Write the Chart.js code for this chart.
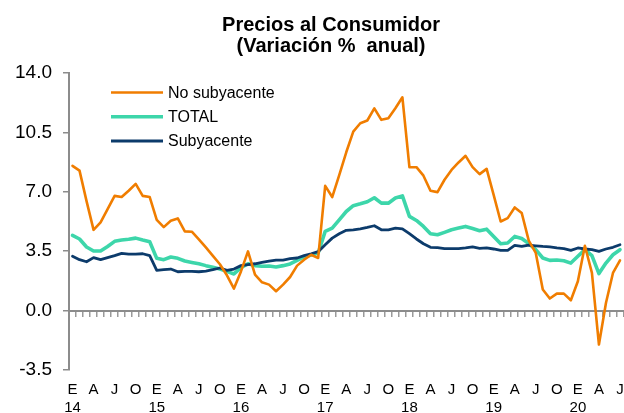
<!DOCTYPE html>
<html>
<head>
<meta charset="utf-8">
<script src="https://cdn.jsdelivr.net/npm/chart.js@4.4.1/dist/chart.umd.min.js"></script>
<style>
html,body{margin:0;padding:0;background:#ffffff;}
#wrap{width:624px;height:413px;position:relative;}
canvas{display:block;}
</style>
</head>
<body>
<div id="wrap"><canvas id="c" width="624" height="413"></canvas></div>
<script>
// ---- Data ----
const categories = [
  'Ene-14','Feb-14','Mar-14','Abr-14','May-14','Jun-14','Jul-14','Ago-14','Sep-14','Oct-14','Nov-14','Dic-14',
  'Ene-15','Feb-15','Mar-15','Abr-15','May-15','Jun-15','Jul-15','Ago-15','Sep-15','Oct-15','Nov-15','Dic-15',
  'Ene-16','Feb-16','Mar-16','Abr-16','May-16','Jun-16','Jul-16','Ago-16','Sep-16','Oct-16','Nov-16','Dic-16',
  'Ene-17','Feb-17','Mar-17','Abr-17','May-17','Jun-17','Jul-17','Ago-17','Sep-17','Oct-17','Nov-17','Dic-17',
  'Ene-18','Feb-18','Mar-18','Abr-18','May-18','Jun-18','Jul-18','Ago-18','Sep-18','Oct-18','Nov-18','Dic-18',
  'Ene-19','Feb-19','Mar-19','Abr-19','May-19','Jun-19','Jul-19','Ago-19','Sep-19','Oct-19','Nov-19','Dic-19',
  'Ene-20','Feb-20','Mar-20','Abr-20','May-20','Jun-20','Jul-20'
];
const quarterLetters = ['E', 'A', 'J', 'O'];
const yearLabels = ['14', '15', '16', '17', '18', '19', '20'];
const yTicks = [-3.5, 0, 3.5, 7, 10.5, 14];
const seriesNames = ['No subyacente', 'TOTAL', 'Subyacente'];

const noSubyacente = [
  8.53, 8.25, 6.45, 4.76, 5.20, 5.98, 6.76, 6.69, 7.06, 7.47, 6.76, 6.69,
  5.35, 4.92, 5.29, 5.43, 4.67, 4.65, 4.20, 3.72, 3.22, 2.73, 2.08, 1.30,
  2.31, 3.49, 2.12, 1.67, 1.53, 1.14, 1.53, 1.98, 2.65, 3.00, 3.29, 3.10,
  7.35, 6.69, 7.98, 9.33, 10.55, 11.04, 11.20, 11.92, 11.24, 11.33, 11.92, 12.57,
  8.45, 8.45, 7.95, 7.06, 6.98, 7.71, 8.29, 8.73, 9.12, 8.45, 8.04, 8.35,
  6.82, 5.25, 5.45, 6.08, 5.75, 4.12, 3.40, 1.24, 0.71, 1.00, 1.00, 0.61,
  1.73, 3.82, 2.22, -2.00, 0.45, 2.22, 2.96
];
const total = [
  4.43, 4.22, 3.75, 3.51, 3.51, 3.78, 4.08, 4.16, 4.20, 4.27, 4.16, 4.06,
  3.08, 3.00, 3.16, 3.08, 2.92, 2.84, 2.76, 2.65, 2.55, 2.45, 2.31, 2.16,
  2.53, 2.76, 2.65, 2.61, 2.63, 2.57, 2.65, 2.75, 2.96, 3.16, 3.27, 3.39,
  4.67, 4.86, 5.35, 5.84, 6.18, 6.29, 6.41, 6.65, 6.33, 6.33, 6.63, 6.76,
  5.55, 5.31, 4.96, 4.53, 4.47, 4.61, 4.76, 4.86, 4.96, 4.84, 4.71, 4.80,
  4.37, 3.94, 3.98, 4.37, 4.25, 3.95, 3.59, 3.10, 2.96, 2.98, 2.94, 2.80,
  3.20, 3.59, 3.24, 2.18, 2.80, 3.29, 3.59
];
const subyacente = [
  3.20, 3.00, 2.88, 3.12, 3.00, 3.12, 3.24, 3.37, 3.33, 3.33, 3.35, 3.24,
  2.37, 2.41, 2.45, 2.29, 2.31, 2.31, 2.29, 2.33, 2.41, 2.51, 2.37, 2.45,
  2.65, 2.71, 2.76, 2.84, 2.92, 2.98, 2.98, 3.06, 3.10, 3.24, 3.35, 3.47,
  3.88, 4.27, 4.53, 4.73, 4.76, 4.82, 4.90, 5.00, 4.76, 4.76, 4.86, 4.82,
  4.53, 4.22, 3.94, 3.73, 3.71, 3.65, 3.65, 3.65, 3.69, 3.75, 3.67, 3.69,
  3.63, 3.55, 3.55, 3.84, 3.78, 3.86, 3.82, 3.78, 3.75, 3.69, 3.65, 3.55,
  3.69, 3.63, 3.59, 3.49, 3.63, 3.73, 3.88
];

// ---- Styling ----
const FONT = '"Liberation Sans", Arial, sans-serif';
const AXIS_GREY = '#8c8c8c';
const COLORS = ['#f07d00', '#3dd6aa', '#0c3b6b'];
const WIDTHS = [2.6, 3.6, 2.8];
const LEGEND_WIDTHS = [2.4, 3.6, 3.0];

// legend drawn inside the plot area
const insideLegend = {
  id: 'insideLegend',
  afterDatasetsDraw(chart) {
    const ctx = chart.ctx;
    const a = chart.chartArea;
    const x0 = a.left + 42, x1 = a.left + 94, tx = a.left + 99;
    const y0 = a.top + 19.5, dy = 24.2;
    ctx.save();
    chart.data.datasets.forEach((ds, i) => {
      const y = y0 + i * dy;
      ctx.strokeStyle = ds.borderColor;
      ctx.lineWidth = LEGEND_WIDTHS[i];
      ctx.lineCap = 'butt';
      ctx.beginPath();
      ctx.moveTo(x0, y);
      ctx.lineTo(x1, y);
      ctx.stroke();
      ctx.fillStyle = '#000';
      ctx.font = '16px ' + FONT;
      ctx.textAlign = 'left';
      ctx.textBaseline = 'middle';
      ctx.fillText(ds.label, tx, y + 1);
    });
    ctx.restore();
  }
};

const datasets = [noSubyacente, total, subyacente].map((vals, i) => ({
  label: seriesNames[i],
  data: vals,
  borderColor: COLORS[i],
  backgroundColor: COLORS[i],
  borderWidth: WIDTHS[i],
  pointRadius: 0,
  pointHoverRadius: 0,
  tension: 0,
  borderJoinStyle: 'round',
  borderCapStyle: 'round',
  fill: false,
  order: [0, 2, 1][i]
}));

new Chart(document.getElementById('c'), {
  type: 'line',
  data: { labels: categories, datasets: datasets },
  plugins: [insideLegend],
  options: {
    responsive: false,
    animation: false,
    events: [],
    // negative right padding + an empty right-hand box shifts the title centre to match the reference
    layout: { padding: { left: 0, right: -38, top: 0, bottom: 0 } },
    plugins: {
      legend: { display: false },
      tooltip: { enabled: false },
      title: {
        display: true,
        text: ['Precios al Consumidor', '(Variación %  anual)'],
        color: '#000',
        font: { family: FONT, size: 20, weight: 'bold', lineHeight: 1.05 },
        padding: { top: 15, bottom: 16 }
      }
    },
    scales: {
      x: {
        type: 'category',
        position: 'bottom',
        offset: true,
        grid: { display: false, drawTicks: true, tickLength: 11 },
        border: { display: false },
        ticks: {
          autoSkip: false,
          maxRotation: 0,
          minRotation: 0,
          padding: 0,
          color: '#000',
          font: { family: FONT, size: 15, lineHeight: 1.2 },
          callback: function (value, index) {
            if (index % 3 !== 0) return '';
            const q = quarterLetters[(index / 3) % 4];
            if (index % 12 === 0) return [q, yearLabels[index / 12]];
            return q;
          }
        },
        afterFit: function (s) { s.height = 43; }
      },
      x0: {
        type: 'category',
        position: { y: 0 },
        offset: true,
        grid: {
          display: true,
          drawOnChartArea: false,
          drawTicks: true,
          tickLength: 5,
          offset: true,
          color: '#9a9a9a',
          lineWidth: 1.5
        },
        border: { display: true, color: AXIS_GREY, width: 2 },
        ticks: { display: false }
      },
      y: {
        type: 'linear',
        position: 'left',
        min: -3.5,
        max: 14,
        afterBuildTicks: function (s) { s.ticks = yTicks.map(v => ({ value: v })); },
        grid: {
          display: true,
          drawOnChartArea: false,
          drawTicks: true,
          tickLength: 6,
          color: AXIS_GREY,
          lineWidth: 1.5
        },
        border: { display: true, color: AXIS_GREY, width: 2 },
        ticks: {
          padding: 11,
          color: '#000',
          font: { family: FONT, size: 19 },
          callback: function (v) { return Number(v).toFixed(1); }
        },
        afterFit: function (s) { s.width = 69; }
      },
      yR: {
        type: 'linear',
        position: 'right',
        display: true,
        grid: { display: false, drawTicks: false },
        border: { display: false },
        ticks: { display: false },
        afterFit: function (s) { s.width = 38.5; }
      }
    }
  }
});
</script>
</body>
</html>
